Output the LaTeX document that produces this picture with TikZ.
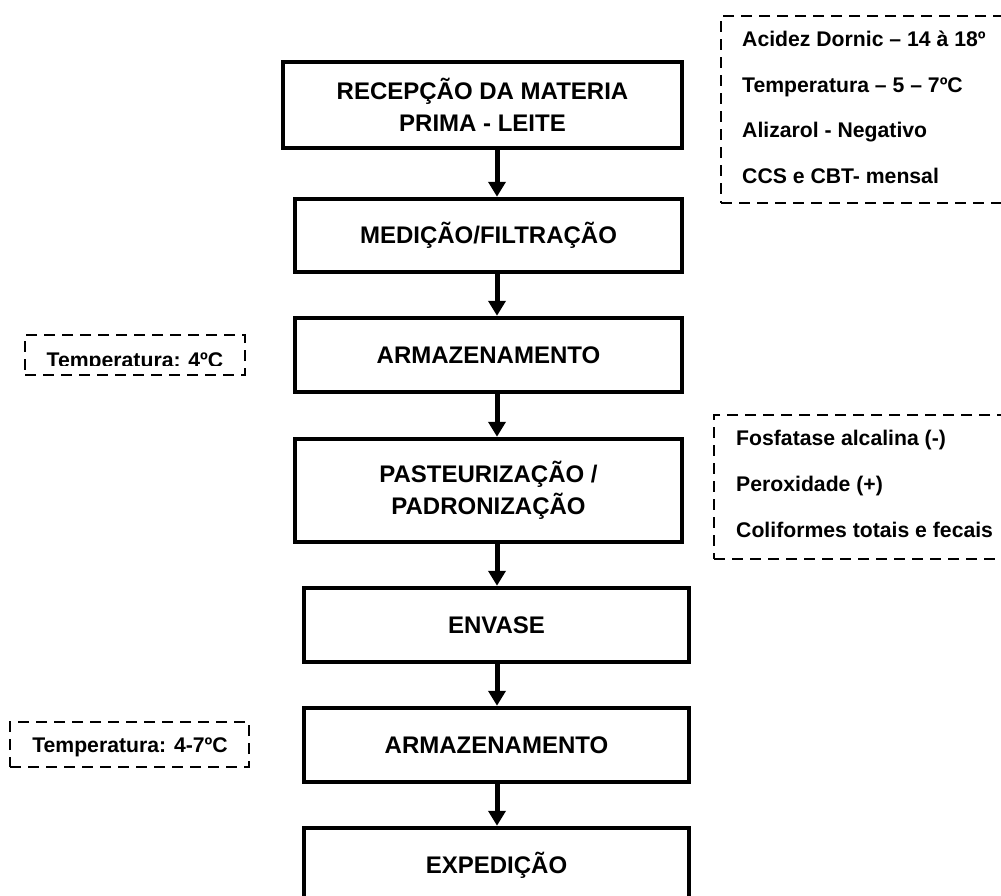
\documentclass[tikz,border=0pt]{standalone}
\usepackage{fontspec}
\setmainfont{Liberation Sans}
\usetikzlibrary{arrows.meta}
\begin{document}
\begin{tikzpicture}[x=1pt,y=-1pt,
  stepbox/.style={draw, line width=4.5pt, rectangle, inner sep=0pt, align=center,
    font=\fontsize{24}{32}\selectfont\bfseries},
  dbox/.style={draw, line width=2.4pt, dash pattern=on 11pt off 7pt, rectangle, inner sep=0pt},
  note/.style={font=\fontsize{21.2}{25}\selectfont\bfseries, inner sep=0pt},
  arr/.style={line width=5pt, -{Triangle[length=15pt,width=17pt]}}]
\clip (0,0) rectangle (1001,895);
\fill[white] (0,0) rectangle (1001,895);

% main steps
\node[stepbox, minimum width=399pt, minimum height=86pt] (b1) at (482.5,105) {RECEPÇÃO DA MATERIA\\PRIMA - LEITE};
\node[stepbox, minimum width=387pt, minimum height=73pt] (b2) at (488.5,235.5) {MEDIÇÃO/FILTRAÇÃO};
\node[stepbox, minimum width=387pt, minimum height=74pt] (b3) at (488.5,355) {ARMAZENAMENTO};
\node[stepbox, minimum width=387pt, minimum height=103pt] (b4) at (488.5,490.5) {PASTEURIZAÇÃO /\\PADRONIZAÇÃO};
\node[stepbox, minimum width=385pt, minimum height=74pt] (b5) at (496.5,625) {ENVASE};
\node[stepbox, minimum width=385pt, minimum height=74pt] (b6) at (496.5,745) {ARMAZENAMENTO};
\node[stepbox, minimum width=385pt, minimum height=74pt] (b7) at (496.5,865) {EXPEDIÇÃO};

% arrows
\coordinate (ax) at (497,0);
\draw[arr] (b1.south -| ax) -- (b2.north -| ax);
\draw[arr] (b2.south -| ax) -- (b3.north -| ax);
\draw[arr] (b3.south -| ax) -- (b4.north -| ax);
\draw[arr] (b4.south -| ax) -- (b5.north -| ax);
\draw[arr] (b5.south -| ax) -- (b6.north -| ax);
\draw[arr] (b6.south -| ax) -- (b7.north -| ax);

% top right note
\node[dbox, minimum width=300pt, minimum height=187pt, anchor=north west] (n1) at (720,15) {};
\node[note, anchor=base west] (n1a) at (742,46) {Acidez Dornic – 14 à 18º};
\node[note, anchor=base west] (n1b) at (742,92) {Temperatura – 5 – 7ºC};
\node[note, anchor=base west] (n1c) at (742,137) {Alizarol - Negativo};
\node[note, anchor=base west] (n1d) at (742,183) {CCS e CBT- mensal};

% middle right note
\node[dbox, minimum width=300pt, minimum height=144pt, anchor=north west] (n2) at (713,414) {};
\node[note, anchor=base west] (n2a) at (736,445) {Fosfatase alcalina (-)};
\node[note, anchor=base west] (n2b) at (736,491) {Peroxidade (+)};
\node[note, anchor=base west] (n2c) at (736,537) {Coliformes totais e fecais};

% left notes
\node[dbox, minimum width=220pt, minimum height=40pt] (n3) at (135,355) {};
\begin{scope}
\clip (20,330) rectangle (250,365);
\node[note, anchor=base] (n3a) at (135,367) {Temperatura: 4ºC};
\end{scope}
\node[dbox, minimum width=239pt, minimum height=45pt] (n4) at (129.5,744.5) {};
\node[note, anchor=base] (n4a) at (130,752) {Temperatura: 4-7ºC};
\end{tikzpicture}
\end{document}
